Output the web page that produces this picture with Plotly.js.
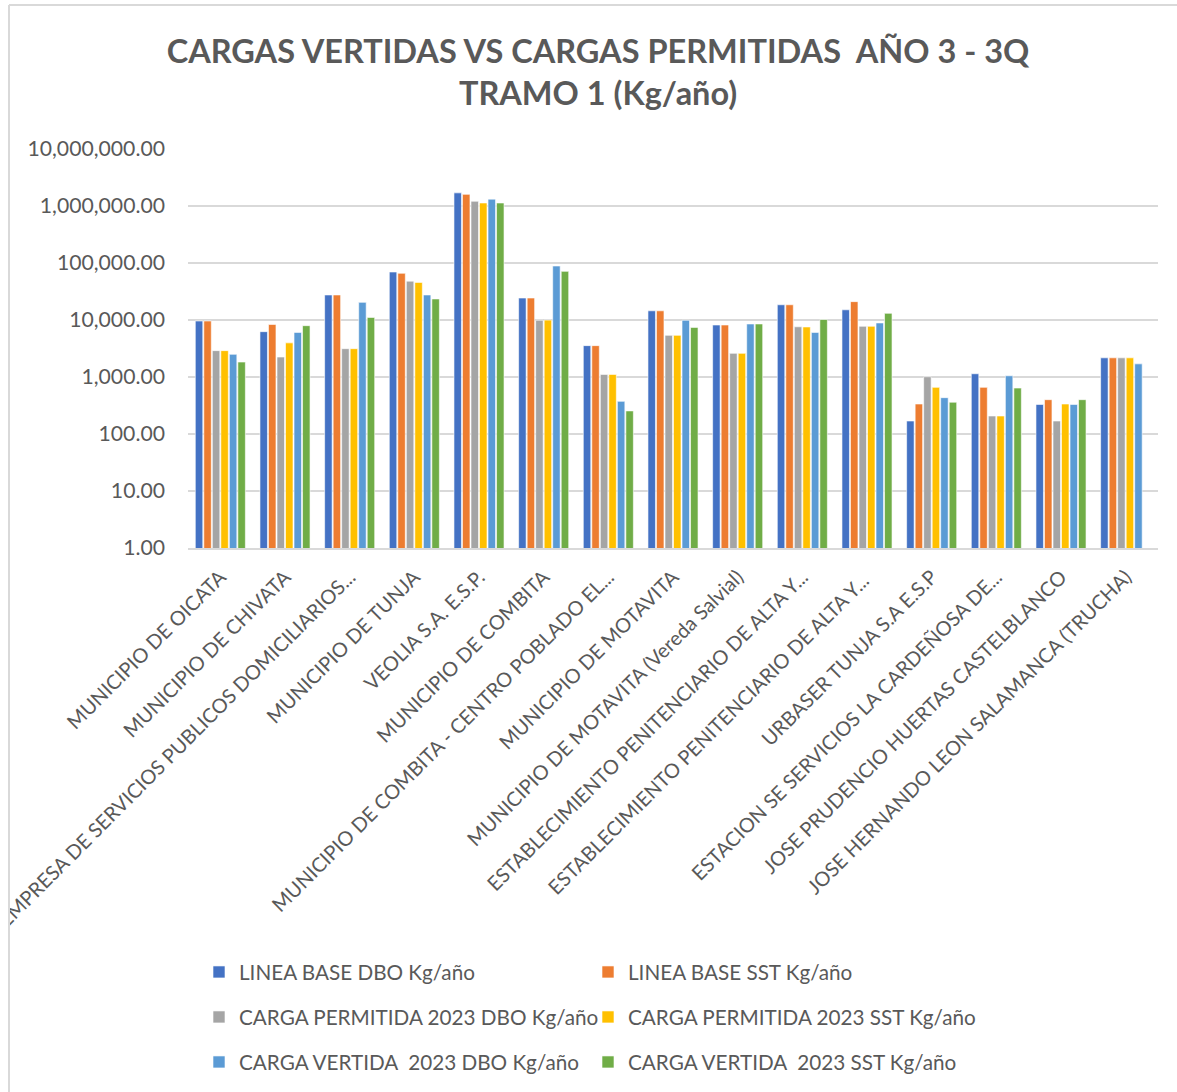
<!DOCTYPE html>
<html>
<head>
<meta charset="utf-8">
<script src="https://cdn.plot.ly/plotly-3.0.1.min.js"></script>
<style>html,body{margin:0;padding:0;background:#fff;}</style>
</head>
<body>
<div id="chart" style="width:1177px;height:1092px;"></div>
<script>
const categories = [
  "MUNICIPIO DE OICATA",
  "MUNICIPIO DE CHIVATA",
  "EMPRESA DE SERVICIOS PUBLICOS DOMICILIARIOS...",
  "MUNICIPIO DE TUNJA",
  "VEOLIA S.A. E.S.P.",
  "MUNICIPIO DE COMBITA",
  "MUNICIPIO DE COMBITA - CENTRO POBLADO EL...",
  "MUNICIPIO DE MOTAVITA",
  "MUNICIPIO DE MOTAVITA (Vereda Salvial)",
  "ESTABLECIMIENTO PENITENCIARIO DE ALTA Y...",
  "ESTABLECIMIENTO PENITENCIARIO DE ALTA Y... ",
  "URBASER TUNJA S.A E.S.P",
  "ESTACION SE SERVICIOS LA CARDEÑOSA DE...",
  "JOSE PRUDENCIO HUERTAS CASTELBLANCO",
  "JOSE HERNANDO LEON SALAMANCA (TRUCHA)"
];

const lineaBaseDBO      = [9600, 6240, 27500, 69500, 1700000, 24300, 3550, 14500, 8170, 18500, 15100, 169, 1140, 330, 2170];
const lineaBaseSST      = [9600, 8350, 27500, 66000, 1600000, 24300, 3550, 14500, 8170, 18500, 21000, 336, 658, 400, 2170];
const permitidaDBO2023  = [2900, 2240, 3140, 48000, 1210000, 9900, 1110, 5380, 2600, 7600, 7750, 1010, 207, 169, 2170];
const permitidaSST2023  = [2900, 3970, 3140, 45700, 1130000, 9950, 1110, 5380, 2600, 7550, 7750, 658, 207, 336, 2170];
const vertidaDBO2023    = [2500, 6060, 20400, 27500, 1320000, 88600, 374, 9890, 8520, 6060, 8880, 434, 1050, 330, 1700];
const vertidaSST2023    = [1830, 7950, 11100, 23400, 1130000, 71300, 254, 7420, 8520, 10200, 13100, 361, 640, 400, null];

const seriesNames = [
  "LINEA BASE DBO Kg/año",
  "LINEA BASE SST Kg/año",
  "CARGA PERMITIDA 2023 DBO Kg/año",
  "CARGA PERMITIDA 2023 SST Kg/año",
  "CARGA VERTIDA  2023 DBO Kg/año",
  "CARGA VERTIDA  2023 SST Kg/año"
];
const seriesValues = [lineaBaseDBO, lineaBaseSST, permitidaDBO2023, permitidaSST2023, vertidaDBO2023, vertidaSST2023];
const colors = ["#4472C4", "#ED7D31", "#A5A5A5", "#FFC000", "#5B9BD5", "#70AD47"];
const yTickVals = [1, 10, 100, 1000, 10000, 100000, 1000000, 10000000];

const FONT = "Lato, 'Open Sans', sans-serif";
const TXT = "#595959";

const legendKeys = ["legend", "legend2", "legend3", "legend4", "legend5", "legend6"];
const traces = seriesNames.map((n, i) => ({
  type: "bar",
  name: n,
  x: categories,
  y: seriesValues[i],
  marker: {color: colors[i], line: {color: "#ffffff", width: 0.6}},
  legend: legendKeys[i],
  hoverinfo: "x+y+name"
}));

// legend positions (container px)
const legPos = [[199, 972], [588, 972], [199, 1017], [588, 1017], [199, 1062], [588, 1062]];
const layout = {
  width: 1177,
  height: 1092,
  paper_bgcolor: "#ffffff",
  plot_bgcolor: "#ffffff",
  font: {family: FONT, color: TXT},
  margin: {l: 188, r: 19, t: 149, b: 544},
  title: {
    text: "<b>CARGAS VERTIDAS VS CARGAS PERMITIDAS  AÑO 3 - 3Q<br>TRAMO 1 (Kg/año)</b>",
    font: {family: FONT, size: 32.5, color: TXT},
    x: 598 / 1177, xanchor: "center", xref: "container",
    y: 1 - 63 / 1092, yanchor: "middle", yref: "container"
  },
  barmode: "group",
  bargap: 0.21,
  bargroupgap: 0.12,
  xaxis: {
    type: "category",
    tickangle: -45,
    tickfont: {family: FONT, size: 20, color: TXT},
    showgrid: false,
    showline: true,
    linecolor: "#d9d9d9",
    linewidth: 1.5,
    ticks: "",
    ticklabelstandoff: 8,
    automargin: false
  },
  yaxis: {
    type: "log",
    range: [0, 7],
    tickvals: yTickVals,
    tickformat: ",.2f",
    tickfont: {family: FONT, size: 21.2, color: TXT},
    showgrid: true,
    gridcolor: "#d9d9d9",
    gridwidth: 1.5,
    showline: false,
    zeroline: false,
    ticks: "",
    ticklabelstandoff: 22,
    automargin: false
  },
  shapes: [
    {type: "rect", xref: "paper", yref: "paper", layer: "above", x0: -189/970, x1: -180/970, y0: 1 + 150/399, y1: -545/399, fillcolor: "#ffffff", line: {width: 0}},
    {type: "line", xref: "paper", yref: "paper", layer: "above", x0: -179/970, x1: 989/970, y0: 1 + 144/399, y1: 1 + 144/399, line: {color: "#d9d9d9", width: 2}},
    {type: "line", xref: "paper", yref: "paper", layer: "above", x0: -179/970, x1: -179/970, y0: 1 + 144/399, y1: -544/399, line: {color: "#d9d9d9", width: 2}}
  ],
  showlegend: true
};
legendKeys.forEach((k, i) => {
  layout[k] = {
    orientation: "h",
    xref: "container", yref: "container",
    x: legPos[i][0] / 1177, xanchor: "left",
    y: 1 - legPos[i][1] / 1092, yanchor: "middle",
    font: {family: FONT, size: 20.7, color: TXT},
    bgcolor: "rgba(0,0,0,0)",
    itemwidth: 30
  };
});

Plotly.newPlot("chart", traces, layout, {displayModeBar: false, staticPlot: true});
</script>
</body>
</html>
